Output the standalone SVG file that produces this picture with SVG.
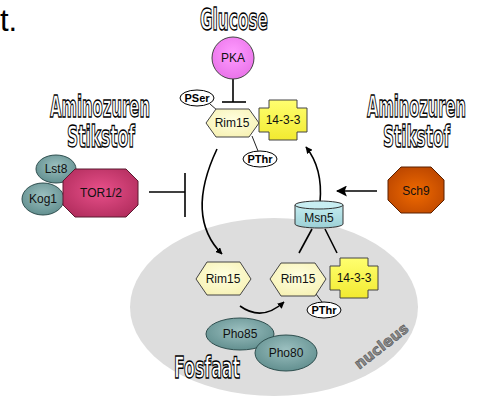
<svg xmlns="http://www.w3.org/2000/svg" width="477" height="401" viewBox="0 0 477 401">
<defs>
<style>
.lbl{font-family:"Liberation Sans",Arial,sans-serif;font-size:12px;fill:#111;text-anchor:middle}
.p{font-family:"Liberation Sans",Arial,sans-serif;font-size:11px;font-weight:bold;fill:#000;text-anchor:middle}
.big{font-family:"DejaVu Sans Condensed","DejaVu Sans",sans-serif;font-weight:bold;font-size:31px;fill:#fff;stroke:#000;stroke-width:1.4;text-anchor:start}
.ln{stroke:#000;stroke-width:1.6;fill:none}
.thin{stroke:#222;stroke-width:1;fill:none}
.hex{fill:url(#gHex);stroke:#444;stroke-width:1}
.cross{fill:url(#gY);stroke:#444;stroke-width:1}
.teal{fill:url(#gT);stroke:#2f4f4f;stroke-width:1}
.ph{fill:#fff;stroke:#000;stroke-width:1}
</style>
<radialGradient id="gHex" cx="50%" cy="40%" r="70%"><stop offset="0" stop-color="#ffffe0"/><stop offset="1" stop-color="#f6f0b0"/></radialGradient>
<linearGradient id="gY" x1="0" y1="0" x2="0" y2="1"><stop offset="0" stop-color="#ffff70"/><stop offset="1" stop-color="#f2ea30"/></linearGradient>
<radialGradient id="gT" cx="50%" cy="40%" r="65%"><stop offset="0" stop-color="#9cc0c0"/><stop offset="1" stop-color="#5e8c8c"/></radialGradient>
<radialGradient id="gPKA" cx="50%" cy="40%" r="65%"><stop offset="0" stop-color="#ff9cff"/><stop offset="1" stop-color="#e870e8"/></radialGradient>
<radialGradient id="gTOR" cx="50%" cy="45%" r="65%"><stop offset="0" stop-color="#e8508a"/><stop offset="1" stop-color="#b02c5c"/></radialGradient>
<radialGradient id="gSch" cx="50%" cy="55%" r="65%"><stop offset="0" stop-color="#f06a00"/><stop offset="1" stop-color="#b84400"/></radialGradient>
<linearGradient id="gMsn" x1="0" y1="0" x2="0" y2="1"><stop offset="0" stop-color="#c4ecf0"/><stop offset="1" stop-color="#9cd0d6"/></linearGradient>
<marker id="ah" viewBox="0 0 10 10" refX="9" refY="5" markerWidth="7" markerHeight="7" markerUnits="userSpaceOnUse" orient="auto"><path d="M0,0 L10,5 L0,10 Z" fill="#000"/></marker>
<marker id="ahB" viewBox="0 0 10 10" refX="9" refY="5" markerWidth="11" markerHeight="11" markerUnits="userSpaceOnUse" orient="auto"><path d="M0,0 L10,5 L0,10 L2,5 Z" fill="#000"/></marker>
</defs>

<rect width="477" height="401" fill="#fff"/>

<g id="nucleus">
<ellipse cx="274" cy="307" rx="144" ry="89" fill="#dddddd"/>
<text x="382" y="351" transform="rotate(-38 382 347)" font-family="'DejaVu Sans',sans-serif" font-weight="bold" font-size="15" fill="#8a8a8a" stroke="#555" stroke-width="0.6" text-anchor="middle" textLength="64" lengthAdjust="spacingAndGlyphs">nucleus</text>
</g>

<g id="labels">
<text x="0" y="31" font-family="'Liberation Sans',Arial,sans-serif" font-size="31" fill="#000">t.</text>
<text class="big" x="200" y="30" textLength="68" lengthAdjust="spacingAndGlyphs">Glucose</text>
<text class="big" x="50" y="117" textLength="100" lengthAdjust="spacingAndGlyphs">Aminozuren</text>
<text class="big" x="67" y="147" textLength="68" lengthAdjust="spacingAndGlyphs">Stikstof</text>
<text class="big" x="367" y="117" textLength="99" lengthAdjust="spacingAndGlyphs">Aminozuren</text>
<text class="big" x="383" y="147" textLength="67" lengthAdjust="spacingAndGlyphs">Stikstof</text>
<text class="big" x="174" y="378" textLength="66" lengthAdjust="spacingAndGlyphs">Fosfaat</text>
</g>

<g id="connectors">
<line class="ln" x1="233" y1="79" x2="233" y2="102"/>
<line class="ln" x1="222" y1="102" x2="246" y2="102"/>
<line class="ln" x1="149" y1="192" x2="185" y2="192"/>
<line class="ln" x1="185" y1="173" x2="185" y2="217"/>
<path class="ln" d="M217,149 C200,185 193,225 222,254" marker-end="url(#ah)"/>
<path class="ln" d="M320,202 C322,180 318,162 306,147" marker-end="url(#ah)"/>
<line class="ln" x1="377" y1="191" x2="337" y2="191" marker-end="url(#ahB)"/>
<path class="ln" d="M240,306 Q262,322 284,302" marker-end="url(#ah)"/>
<line class="ln" x1="312" y1="229" x2="299" y2="253"/>
<line class="ln" x1="325" y1="229" x2="337" y2="253"/>
<line class="thin" x1="210" y1="104" x2="218" y2="111"/>
<line class="thin" x1="252" y1="136" x2="258" y2="151"/>
<line class="thin" x1="316" y1="294" x2="322" y2="302"/>
</g>

<g id="PKA">
<circle cx="233" cy="58" r="21" fill="url(#gPKA)" stroke="#444" stroke-width="1"/>
<text class="lbl" x="233" y="62">PKA</text>
</g>

<g id="Rim15-top">
<polygon class="hex" points="206,123 216,109 249,109 259,123 249,137 216,137"/>
<text class="lbl" x="232" y="127">Rim15</text>
</g>
<g id="1433-top">
<path class="cross" d="M269,100 H297 V108 H307 V132 H297 V140 H269 V132 H259 V108 H269 Z"/>
<text class="lbl" x="283" y="124">14-3-3</text>
</g>
<g id="PSer">
<ellipse class="ph" cx="197" cy="98" rx="17" ry="8"/>
<text class="p" x="197" y="102">PSer</text>
</g>
<g id="PThr-top">
<ellipse class="ph" cx="260" cy="159" rx="17" ry="8"/>
<text class="p" x="260" y="163">PThr</text>
</g>

<g id="TOR">
<ellipse class="teal" cx="56" cy="169" rx="20" ry="14"/>
<text class="lbl" x="56" y="173">Lst8</text>
<ellipse class="teal" cx="43" cy="199" rx="21" ry="16"/>
<text class="lbl" x="43" y="203">Kog1</text>
<polygon points="75,169 126,169 138,181 138,205 126,217 75,217 63,205 63,181" fill="url(#gTOR)" stroke="#5a1a30" stroke-width="1"/>
<text class="lbl" x="101" y="197">TOR1/2</text>
</g>

<g id="Sch9">
<polygon points="401,167 431,167 444,180 444,200 431,213 401,213 388,200 388,180" fill="url(#gSch)" stroke="#5a2000" stroke-width="1"/>
<text class="lbl" x="416" y="195">Sch9</text>
</g>

<g id="Msn5">
<path d="M295,205 V224 A24,4 0 0 0 343,224 V205 Z" fill="url(#gMsn)" stroke="#333" stroke-width="1"/>
<ellipse cx="319" cy="205" rx="24" ry="4" fill="#c8eef2" stroke="#333" stroke-width="1"/>
<text class="lbl" x="319" y="222">Msn5</text>
</g>

<g id="Rim15-nuc1">
<polygon class="hex" points="196,279 207,262 240,262 251,279 240,295 207,295"/>
<text class="lbl" x="223" y="283">Rim15</text>
</g>
<g id="Rim15-nuc2">
<polygon class="hex" points="270,279 281,263 315,263 326,279 315,296 281,296"/>
<text class="lbl" x="298" y="283">Rim15</text>
</g>
<g id="1433-nuc">
<path class="cross" d="M340,258 H368 V266 H378 V290 H368 V298 H340 V290 H330 V266 H340 Z"/>
<text class="lbl" x="354" y="282">14-3-3</text>
</g>
<g id="PThr-nuc">
<ellipse class="ph" cx="324" cy="310" rx="17" ry="8"/>
<text class="p" x="324" y="314">PThr</text>
</g>

<g id="Pho">
<ellipse class="teal" cx="240" cy="334" rx="34" ry="16"/>
<text class="lbl" x="240" y="338">Pho85</text>
<ellipse class="teal" cx="286" cy="353" rx="31" ry="18"/>
<text class="lbl" x="286" y="357">Pho80</text>
</g>
</svg>
